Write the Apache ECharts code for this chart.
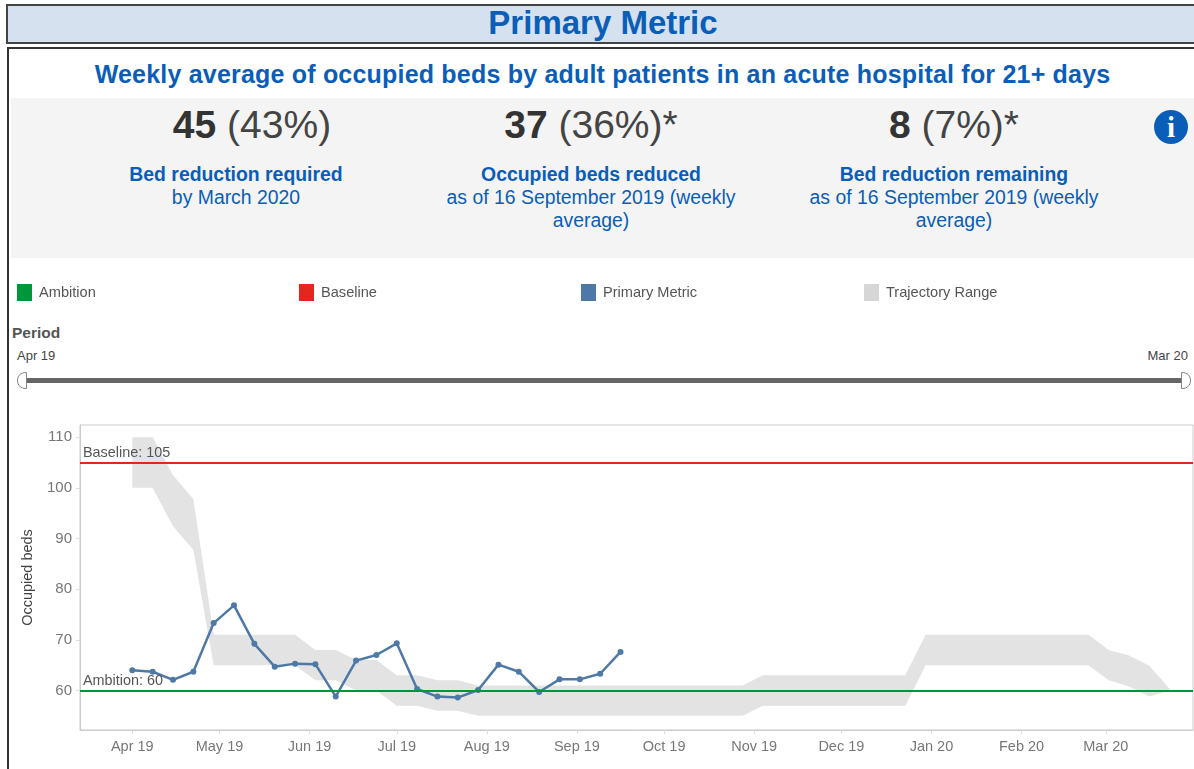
<!DOCTYPE html>
<html lang="en">
<head>
    <meta charset="UTF-8">
    <title>Primary Metric</title>
    <script src="https://cdn.jsdelivr.net/npm/echarts@6/dist/echarts.min.js"></script>
    <style>
        html, body { margin: 0; padding: 0; background: #fff; }
        body { width: 1194px; height: 769px; overflow: hidden; position: relative; font-family: "Liberation Sans", Arial, sans-serif; }
        .abs { position: absolute; }
        #banner { left: 6px; top: 4px; width: 1188px; height: 36px; background: #d5e1ef; border: 2px solid #444; border-right: 0; }
        #bannerText { left: 0; top: 4px; width: 1206px; text-align: center; font-size: 33px; line-height: 38px; font-weight: bold; color: #0a5eb8; }
        #panel { left: 7px; top: 47px; width: 1187px; height: 730px; border: 2px solid #333; border-right: 0; border-bottom: 0; }
        #heading { left: 0; top: 59px; width: 1205px; text-align: center; font-size: 25px; line-height: 30px; font-weight: bold; color: #0a5eb8; letter-spacing: 0.2px; }
        #tiles { left: 11px; top: 98px; width: 1183px; height: 160px; background: #f4f4f4; }
        .stat { text-align: center; font-size: 39px; line-height: 44px; color: #444; white-space: nowrap; }
        .stat b { color: #333; }
        .label { text-align: center; font-size: 19.4px; line-height: 23px; color: #0a5eb8; }
        #info { left: 1154px; top: 110px; width: 34px; height: 34px; border-radius: 17px; background: #0a5eb8; color: #fff; text-align: center; font: bold 29px/35px "Liberation Serif", serif; }
        #period { left: 12px; top: 324px; font-size: 15.5px; line-height: 18px; font-weight: bold; color: #555; }
        .end { top: 349px; font-size: 13px; line-height: 14px; color: #444; }
        #bar { left: 25px; top: 378px; width: 1157px; height: 5px; background: #666; }
        .handle { top: 372px; width: 8px; height: 15px; background: #fff; border: 1px solid #888; }
        #handleL { left: 17px; border-radius: 8px 0 0 8px; }
        #handleR { left: 1181px; border-radius: 0 8px 8px 0; }
        #main { left: 0; top: 0; width: 1194px; height: 769px; }
    </style>
</head>
<body>

<div class="abs" id="banner"></div>
<div class="abs" id="bannerText">Primary Metric</div>
<div class="abs" id="panel"></div>
<div class="abs" id="heading">Weekly average of occupied beds by adult patients in an acute hospital for 21+ days</div>

<div class="abs" id="tiles"></div>
<div class="abs stat" style="left:52px;width:400px;top:103px"><b>45</b> (43%)</div>
<div class="abs stat" style="left:391px;width:400px;top:103px"><b>37</b> (36%)*</div>
<div class="abs stat" style="left:754px;width:400px;top:103px"><b>8</b> (7%)*</div>
<div class="abs label" style="left:76px;width:320px;top:163px"><b>Bed reduction required</b><br>by March 2020</div>
<div class="abs label" style="left:431px;width:320px;top:163px"><b>Occupied beds reduced</b><br>as of 16 September 2019 (weekly average)</div>
<div class="abs label" style="left:794px;width:320px;top:163px"><b>Bed reduction remaining</b><br>as of 16 September 2019 (weekly average)</div>
<div class="abs" id="info">i</div>

<div class="abs" id="period">Period</div>
<div class="abs end" style="left:17px">Apr 19</div>
<div class="abs end" style="right:6px">Mar 20</div>
<div class="abs" id="bar"></div>
<div class="abs handle" id="handleL"></div>
<div class="abs handle" id="handleR"></div>

<div class="abs" id="main"></div>

<script>
    var weeks = [
        '2019-04-01', '2019-04-08', '2019-04-15', '2019-04-22', '2019-04-29', '2019-05-06', '2019-05-13', '2019-05-20',
        '2019-05-27', '2019-06-03', '2019-06-10', '2019-06-17', '2019-06-24', '2019-07-01', '2019-07-08', '2019-07-15',
        '2019-07-22', '2019-07-29', '2019-08-05', '2019-08-12', '2019-08-19', '2019-08-26', '2019-09-02', '2019-09-09',
        '2019-09-16', '2019-09-23', '2019-09-30', '2019-10-07', '2019-10-14', '2019-10-21', '2019-10-28', '2019-11-04',
        '2019-11-11', '2019-11-18', '2019-11-25', '2019-12-02', '2019-12-09', '2019-12-16', '2019-12-23', '2019-12-30',
        '2020-01-06', '2020-01-13', '2020-01-20', '2020-01-27', '2020-02-03', '2020-02-10', '2020-02-17', '2020-02-24',
        '2020-03-02', '2020-03-09', '2020-03-16', '2020-03-23'
    ];
    var primaryMetric = [
        64.0, 63.7, 62.1, 63.7, 73.3, 76.8, 69.2, 64.7, 65.3, 65.2, 58.8, 65.9, 67.0,
        69.3, 60.3, 58.8, 58.6, 60.1, 65.1, 63.7, 59.7, 62.2, 62.2, 63.3, 67.6
    ];
    var rangeHigh = [
        110, 110, 102.5, 97.8, 71, 71, 71, 71, 71, 68, 68, 66, 66,
        63, 63, 62, 62, 61, 61, 61, 61, 61, 61, 61, 61, 61,
        61, 61, 61, 61, 61, 63, 63, 63, 63, 63, 63, 63, 63,
        71, 71, 71, 71, 71, 71, 71, 71, 71, 68, 66.9, 64.9, 60.3
    ];
    var rangeLow = [
        100, 100, 92.4, 87.8, 65, 65, 65, 65, 65, 62, 62, 60, 60,
        57, 57, 56, 56, 55, 55, 55, 55, 55, 55, 55, 55, 55,
        55, 55, 55, 55, 55, 57, 57, 57, 57, 57, 57, 57, 57,
        65, 65, 65, 65, 65, 65, 65, 65, 65, 62, 60.8, 58.8, 60
    ];
    var baseline = 105;
    var ambition = 60;
    var monthTicks = [
        '2019-04-01', '2019-05-01', '2019-06-01', '2019-07-01', '2019-08-01', '2019-09-01',
        '2019-10-01', '2019-11-01', '2019-12-01', '2020-01-01', '2020-02-01', '2020-03-01'
    ];
    var monthLabels = [
        'Apr 19', 'May 19', 'Jun 19', 'Jul 19', 'Aug 19', 'Sep 19',
        'Oct 19', 'Nov 19', 'Dec 19', 'Jan 20', 'Feb 20', 'Mar 20'
    ];
    var yTicks = [60, 70, 80, 90, 100, 110];

    // the x axis is a value axis on timestamps, customValues breaks on a time axis
    function toTime(d) {
        return +echarts.time.parse(d);
    }
    var tickTimes = monthTicks.map(toTime);

    function pairs(values) {
        return values.map(function (v, i) { return [toTime(weeks[i]), v]; });
    }

    // legend items sit at fixed spots, so one legend per item
    function legendAt(name, left) {
        return {
            left: left, top: 284, padding: 0, icon: 'rect', itemWidth: 15, itemHeight: 17,
            data: [name],
            textStyle: { color: '#555', fontSize: 14.6, padding: [0, 0, 0, 2] }
        };
    }

    function refLine(value, text) {
        return {
            silent: true,
            symbol: 'none',
            data: [{ yAxis: value }],
            lineStyle: { type: 'solid', width: 2 },
            label: {
                position: 'insideStartTop', distance: [3, 2], formatter: text,
                color: '#555', fontSize: 14.4
            }
        };
    }

    // one polygon for the whole band: upper edge forward, lower edge back
    function renderBand(params, api) {
        if (params.dataIndex !== 0) {
            return;
        }
        var upper = pairs(rangeHigh).map(function (p) { return api.coord(p); });
        var lower = pairs(rangeLow).map(function (p) { return api.coord(p); });
        return {
            type: 'polygon',
            shape: { points: upper.concat(lower.reverse()) },
            style: { fill: '#e3e3e3' }
        };
    }

    var myChart = echarts.init(document.getElementById('main'));

    var option = {
        animation: false,
        textStyle: { fontFamily: '"Liberation Sans", Arial, sans-serif' },
        legend: [
            legendAt('Ambition', 17),
            legendAt('Baseline', 299),
            legendAt('Primary Metric', 581),
            legendAt('Trajectory Range', 864)
        ],
        grid: { left: 80, right: 1, top: 425, bottom: 39, show: true, borderColor: '#ccc', borderWidth: 1 },
        xAxis: {
            type: 'value',
            min: toTime('2019-03-14'),
            max: toTime('2020-03-31'),
            splitLine: { show: false },
            axisLine: { lineStyle: { color: '#ccc' } },
            axisTick: { customValues: tickTimes, length: 4, lineStyle: { color: '#ddd' } },
            axisLabel: {
                customValues: tickTimes,
                color: '#777', fontSize: 14.5, margin: 9,
                formatter: function (v) { return monthLabels[tickTimes.indexOf(v)]; }
            }
        },
        yAxis: {
            type: 'value',
            min: 52.2,
            max: 112.4,
            name: 'Occupied beds',
            nameLocation: 'middle',
            nameGap: 45,
            nameTextStyle: { color: '#444', fontSize: 14.5 },
            splitLine: { show: false },
            axisLine: { show: true, lineStyle: { color: '#ccc' } },
            axisTick: { show: true, customValues: yTicks, length: 4, lineStyle: { color: '#ddd' } },
            axisLabel: { customValues: yTicks, color: '#777', fontSize: 15, margin: 8 }
        },
        series: [
            {
                name: 'Trajectory Range',
                type: 'custom',
                renderItem: renderBand,
                data: pairs(rangeHigh),
                itemStyle: { color: '#d6d6d6' },
                z: 1
            },
            {
                name: 'Ambition',
                type: 'line',
                color: '#00963a',
                data: [],
                markLine: refLine(ambition, 'Ambition: ' + ambition),
                z: 2
            },
            {
                name: 'Baseline',
                type: 'line',
                color: '#e3261e',
                data: [],
                markLine: refLine(baseline, 'Baseline: ' + baseline),
                z: 2
            },
            {
                name: 'Primary Metric',
                type: 'line',
                color: '#4e79a7',
                data: pairs(primaryMetric),
                symbol: 'circle',
                symbolSize: 6,
                lineStyle: { width: 2.5 },
                z: 3
            }
        ]
    };

    myChart.setOption(option);
</script>
</body>
</html>
